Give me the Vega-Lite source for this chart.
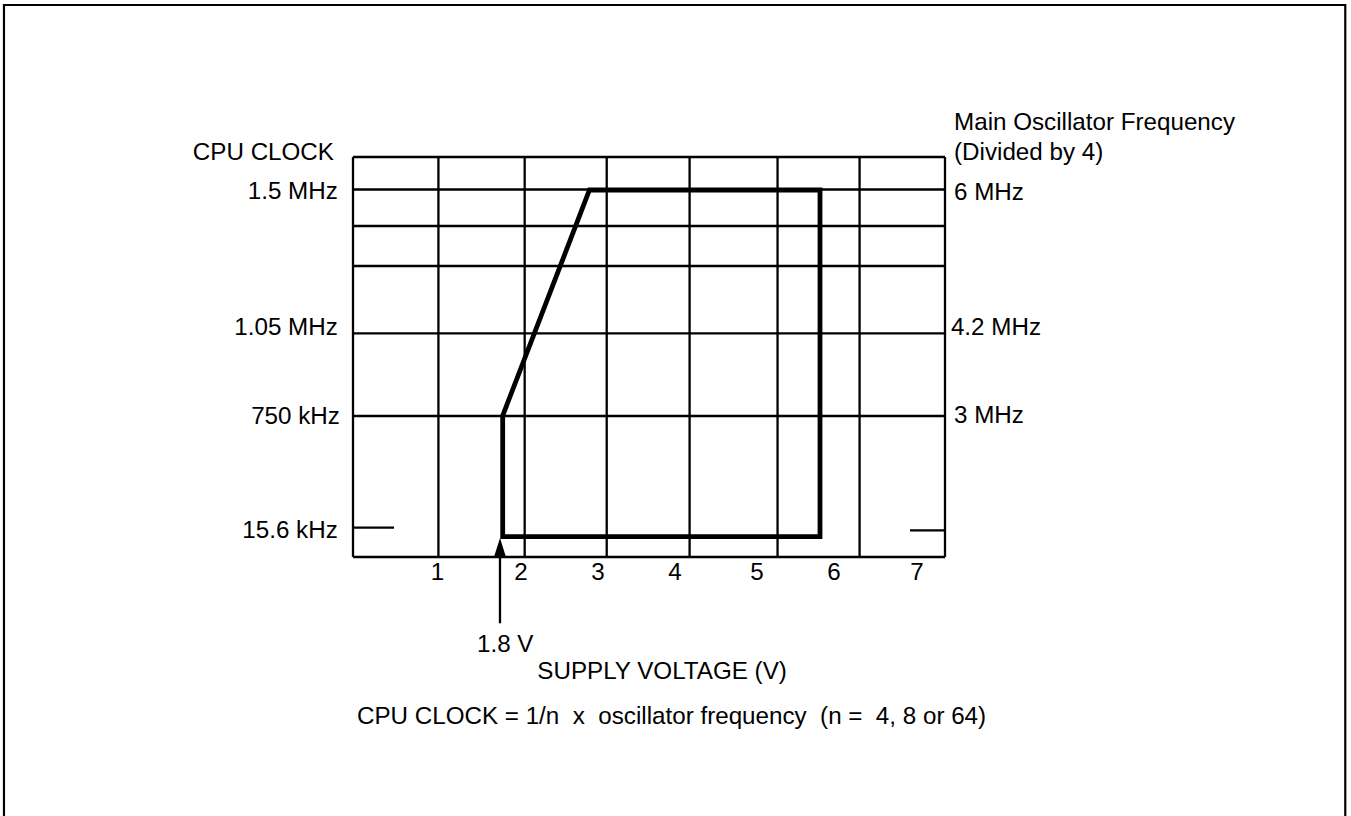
{
  "$schema": "https://vega.github.io/schema/vega-lite/v6.json",
  "width": 592,
  "height": 400,
  "autosize": "none",
  "padding": {"left": 353, "top": 157, "right": 406, "bottom": 259},
  "background": "white",
  "config": {"view": {"stroke": null}, "text": {"font": "Liberation Sans", "fontSize": 24.2, "color": "black"}},
  "datasets": {
    "frame": [{"x1": -4.127, "x2": 11.733, "y1": 11.04, "y2": -5.6}],
    "vgrid": [{"v": 0}, {"v": 1.01}, {"v": 2.03}, {"v": 3.0}, {"v": 3.98}, {"v": 5.02}, {"v": 5.99}, {"v": 7}],
    "hgrid": [{"f": 0}, {"f": 2.82}, {"f": 4.474}, {"f": 5.82}, {"f": 6.62}, {"f": 7.35}, {"f": 8}],
    "ticks": [{"a": 0, "b": 0.485, "f": 0.586}, {"a": 6.586, "b": 7, "f": 0.534}],
    "envelope": [
      {"o": 1, "v": 1.77, "f": 0.406},
      {"o": 2, "v": 1.77, "f": 2.826},
      {"o": 3, "v": 2.796, "f": 7.34},
      {"o": 4, "v": 5.522, "f": 7.34},
      {"o": 5, "v": 5.522, "f": 0.406},
      {"o": 6, "v": 1.77, "f": 0.406}
    ],
    "arrow": [{"v": 1.738, "f1": 0.02, "f2": -1.326, "tip": 0.19}],
    "leftText": [
      {"v": -0.225, "f": 8.074, "t": "CPU CLOCK"},
      {"v": -0.18, "f": 7.306, "t": "1.5 MHz"},
      {"v": -0.18, "f": 4.574, "t": "1.05 MHz"},
      {"v": -0.155, "f": 2.806, "t": "750 kHz"},
      {"v": -0.18, "f": 0.526, "t": "15.6 kHz"}
    ],
    "rightText": [
      {"v": 7.107, "f": 8.674, "t": "Main Oscillator Frequency"},
      {"v": 7.107, "f": 8.074, "t": "(Divided by 4)"},
      {"v": 7.107, "f": 7.286, "t": "6 MHz"},
      {"v": 7.07, "f": 4.574, "t": "4.2 MHz"},
      {"v": 7.107, "f": 2.82, "t": "3 MHz"},
      {"v": 1.466, "f": -1.76, "t": "1.8 V"},
      {"v": 2.179, "f": -2.294, "t": "SUPPLY VOLTAGE (V)"},
      {"v": 0.047, "f": -3.2, "t": "CPU CLOCK = 1/n\u00a0 x\u00a0 oscillator frequency\u00a0 (n =\u00a0 4, 8 or 64)"}
    ],
    "xlabels": [
      {"v": 0.999, "t": "1"}, {"v": 1.986, "t": "2"}, {"v": 2.897, "t": "3"}, {"v": 3.808, "t": "4"},
      {"v": 4.777, "t": "5"}, {"v": 5.688, "t": "6"}, {"v": 6.669, "t": "7"}
    ]
  },
  "resolve": {"scale": {"x": "shared", "y": "shared"}},
  "layer": [
    {
      "data": {"name": "frame"},
      "mark": {"type": "rect", "fill": null, "stroke": "black", "strokeWidth": 2.2, "clip": false},
      "encoding": {
        "x": {"field": "x1", "type": "quantitative", "scale": {"domain": [0, 7], "nice": false, "zero": false}, "axis": null},
        "x2": {"field": "x2"},
        "y": {"field": "y1", "type": "quantitative", "scale": {"domain": [0, 8], "nice": false, "zero": false}, "axis": null},
        "y2": {"field": "y2"}
      }
    },
    {
      "data": {"name": "vgrid"},
      "mark": {"type": "rule", "color": "black", "strokeWidth": 2.3},
      "encoding": {
        "x": {"field": "v", "type": "quantitative"},
        "y": {"datum": 0, "type": "quantitative"},
        "y2": {"datum": 8}
      }
    },
    {
      "data": {"name": "hgrid"},
      "mark": {"type": "rule", "color": "black", "strokeWidth": 2.3},
      "encoding": {
        "y": {"field": "f", "type": "quantitative"},
        "x": {"datum": 0, "type": "quantitative"},
        "x2": {"datum": 7}
      }
    },
    {
      "data": {"name": "ticks"},
      "mark": {"type": "rule", "color": "black", "strokeWidth": 2.3},
      "encoding": {
        "x": {"field": "a", "type": "quantitative"},
        "x2": {"field": "b"},
        "y": {"field": "f", "type": "quantitative"}
      }
    },
    {
      "data": {"name": "envelope"},
      "mark": {"type": "line", "color": "black", "strokeWidth": 4.8, "strokeJoin": "miter", "strokeCap": "square"},
      "encoding": {
        "x": {"field": "v", "type": "quantitative"},
        "y": {"field": "f", "type": "quantitative"},
        "order": {"field": "o", "type": "quantitative"}
      }
    },
    {
      "data": {"name": "arrow"},
      "mark": {"type": "rule", "color": "black", "strokeWidth": 2.3},
      "encoding": {
        "x": {"field": "v", "type": "quantitative"},
        "y": {"field": "f1", "type": "quantitative"},
        "y2": {"field": "f2"}
      }
    },
    {
      "data": {"name": "arrow"},
      "mark": {"type": "point", "shape": "M0,-1L-0.63,1L0.63,1Z", "size": 361, "filled": true, "color": "black", "opacity": 1, "strokeWidth": 0},
      "encoding": {
        "x": {"field": "v", "type": "quantitative"},
        "y": {"field": "tip", "type": "quantitative"}
      }
    },
    {
      "data": {"name": "leftText"},
      "mark": {"type": "text", "align": "right", "baseline": "middle"},
      "encoding": {
        "x": {"field": "v", "type": "quantitative"},
        "y": {"field": "f", "type": "quantitative"},
        "text": {"field": "t"}
      }
    },
    {
      "data": {"name": "rightText"},
      "mark": {"type": "text", "align": "left", "baseline": "middle"},
      "encoding": {
        "x": {"field": "v", "type": "quantitative"},
        "y": {"field": "f", "type": "quantitative"},
        "text": {"field": "t"}
      }
    },
    {
      "data": {"name": "xlabels"},
      "mark": {"type": "text", "align": "center", "baseline": "middle"},
      "encoding": {
        "x": {"field": "v", "type": "quantitative"},
        "y": {"datum": -0.32, "type": "quantitative"},
        "text": {"field": "t"}
      }
    }
  ]
}
